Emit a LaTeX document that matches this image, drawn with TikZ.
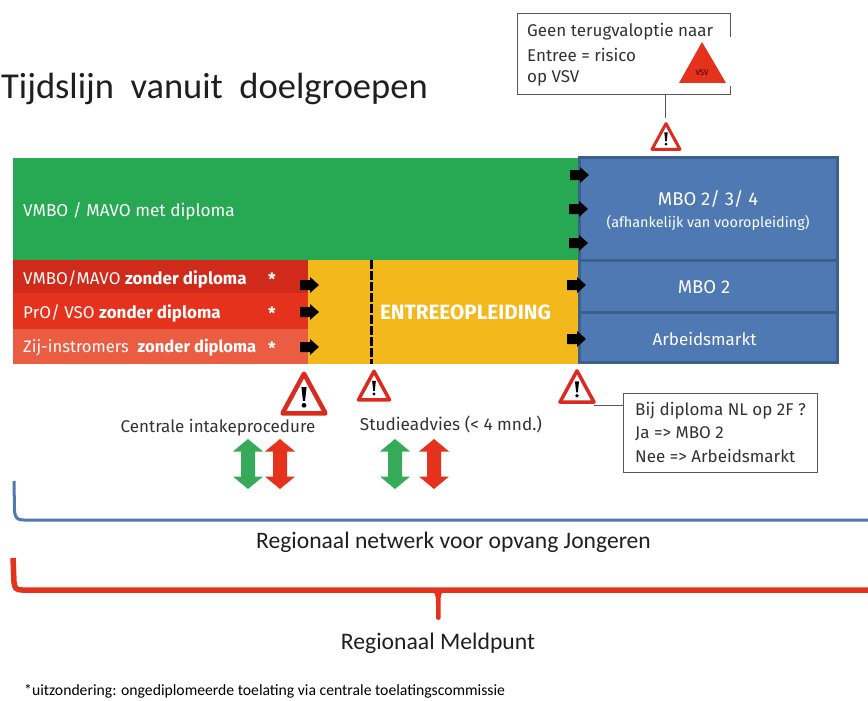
\documentclass[tikz,border=0pt]{standalone}
\usepackage{fontspec}
\setmainfont{Fira Sans}
\newfontfamily\calib{Carlito}
\usetikzlibrary{shapes.geometric}
\definecolor{cgreen}{HTML}{27A853}
\definecolor{cagreen}{HTML}{35AA58}
\definecolor{cblue}{HTML}{4E79B3}
\definecolor{cbluedk}{HTML}{3D5F8C}
\definecolor{credA}{HTML}{D02A1A}
\definecolor{credB}{HTML}{E5321C}
\definecolor{credC}{HTML}{EA5D42}
\definecolor{cyellow}{HTML}{F3B81C}
\definecolor{cwarn}{HTML}{D92B20}
\definecolor{ctext}{HTML}{333333}
\tikzset{
  bluebox/.style={draw=cbluedk,line width=3pt,fill=cblue},
  lbl/.style={text=white,inner sep=0pt},
  dark/.style={text=ctext,inner sep=0pt},
  callout/.style={draw=black!65,line width=1pt,fill=white,inner sep=0pt,outer sep=0pt},
  leader/.style={draw=black!65,line width=1pt},
  pics/blockarrow/.style={code={
    \fill[black] (-19,-5) -- (-9,-5) -- (-9,-8) -- (0,0) -- (-9,8) -- (-9,5) -- (-19,5) -- cycle;
  }},
  pics/updown/.style={code={
    \fill[#1] (0,-25) -- (15,-12.5) -- (7,-12.5) -- (7,12.5) -- (15,12.5) -- (0,25) -- (-15,12.5) -- (-7,12.5) -- (-7,-12.5) -- (-15,-12.5) -- cycle;
  }},
  pics/warn/.style 2 args={code={
    \draw[cwarn,fill=white,line width=#2,line join=round] (-#1,#1*0.92) -- (0,-#1*0.92) -- (#1,#1*0.92) -- cycle;
    \fill[black] (-#1*0.12,-#1*0.30) -- (#1*0.12,-#1*0.30) -- (#1*0.05,#1*0.34) -- (-#1*0.05,#1*0.34) -- cycle;
    \fill[black] (0,#1*0.55) circle (#1*0.11);
  }}
}
\begin{document}
\begin{tikzpicture}[x=1pt,y=-1pt]
\useasboundingbox (0,0) rectangle (868,701);
% title
\node[anchor=base west,inner sep=0pt,text=black!88] (title) at (1,99) {\calib\fontsize{36.5}{38}\selectfont Tijdslijn\ \ vanuit\ \ doelgroepen};
% bands
\fill[cgreen] (13,158) rectangle (580,260);
\fill[credA] (13,260) rectangle (308,293);
\fill[credB] (13,293) rectangle (308,329);
\fill[credC] (13,329) rectangle (308,364);
\fill[cyellow] (308,260) rectangle (580,364);
\draw[black,line width=3pt,dash pattern=on 9pt off 2pt] (371,260) -- (371,364);
\draw[bluebox] (579.5,157.5) rectangle (837,260.5);
\draw[bluebox] (579.5,260.5) rectangle (837,312.5);
\draw[bluebox] (579.5,312.5) rectangle (837,362.5);
% band labels
\node[lbl,anchor=west] (t1) at (23,211) {\fontsize{17.2}{20}\selectfont VMBO / MAVO met diploma};
\node[lbl,anchor=west] (t2) at (23,279) {\fontsize{17}{20}\selectfont VMBO/MAVO \textbf{zonder diploma}};
\node[lbl,anchor=west] (t3) at (23,313) {\fontsize{17}{20}\selectfont PrO/ VSO \textbf{zonder diploma}};
\node[lbl,anchor=west] (t4) at (23,348) {\fontsize{16.6}{20}\selectfont Zij-instromers\ \ \textbf{zonder diploma}};
\node[lbl] (s1) at (272,279) {\fontsize{17}{18}\selectfont\bfseries *};
\node[lbl] (s2) at (272,313) {\fontsize{17}{18}\selectfont\bfseries *};
\node[lbl] (s3) at (272,348) {\fontsize{17}{18}\selectfont\bfseries *};
\node[lbl] (entree) at (465.5,312) {\fontsize{20.7}{22}\selectfont\bfseries ENTREEOPLEIDING};
\node[lbl] (m1) at (708,199) {\fontsize{18.5}{20}\selectfont MBO 2/ 3/ 4};
\node[lbl] (m1b) at (708,223) {\fontsize{14.4}{16}\selectfont (afhankelijk van vooropleiding)};
\node[lbl] (m2) at (704,287) {\fontsize{18.5}{20}\selectfont MBO 2};
\node[lbl] (m3) at (704.5,339) {\fontsize{17}{18}\selectfont Arbeidsmarkt};
% block arrows
\foreach \x/\y in {589/175,588/209,588/243,319/285,319/312,319/347,586/285,586/339}
  \pic at (\x,\y) {blockarrow};
% callout top
\node[callout,minimum width=213pt,minimum height=81pt] (c1) at (623.5,54.5) {};
\fill[white] (725,37) rectangle (733,86);
\node[dark,anchor=west] (c1a) at (527,32) {\fontsize{17}{20}\selectfont Geen terugvaloptie naar};
\node[dark,anchor=west] (c1b) at (527,55) {\fontsize{17}{20}\selectfont Entree = risico};
\node[dark,anchor=west] (c1c) at (527,78) {\fontsize{17}{20}\selectfont op VSV};
\coordinate (vA) at (702,42);
\coordinate (vB) at (726,83);
\coordinate (vC) at (679,83);
\fill[credB] (vA) -- (vB) -- (vC) -- cycle;
\node[inner sep=0pt,text=black!80!red] (vsv) at (702,73) {\fontsize{8}{9}\selectfont VSV};
% warnings
\pic at (666,136.5) {warn={14}{3pt}};
\pic at (304,393.5) {warn={21.5}{4.5pt}};
\pic at (374,385.5) {warn={15.5}{3.5pt}};
\pic at (577,386.5) {warn={17}{3.5pt}};
\coordinate (w1) at (665,118);
\coordinate (c1s) at (665,95);
\draw[leader] (c1s) -- (w1);
% callout bottom
\node[callout,minimum width=194pt,minimum height=79pt] (c2) at (720,432.5) {};
\coordinate (w4) at (594,405);
\draw[leader] (w4) -- (c2.west |- w4);
\node[dark,anchor=west] (c2a) at (635,411) {\fontsize{17}{20}\selectfont Bij diploma NL op 2F ?};
\node[dark,anchor=west] (c2b) at (635,434) {\fontsize{17}{20}\selectfont Ja => MBO 2};
\node[dark,anchor=west] (c2c) at (635,456) {\fontsize{17}{20}\selectfont Nee => Arbeidsmarkt};
% step labels
\node[dark] (l1) at (218,428) {\fontsize{17}{20}\selectfont Centrale intakeprocedure};
\node[dark] (l2) at (451,424) {\fontsize{17.2}{20}\selectfont Studieadvies (< 4 mnd.)};
% up-down arrows
\pic at (248,464) {updown=cagreen};
\pic at (280,464) {updown=credB};
\pic at (395,464) {updown=cagreen};
\pic at (434,464) {updown=credB};
% brackets
\coordinate (b1) at (14,481);
\coordinate (b2) at (868,520);
\draw[cblue,line width=3pt,line join=round] (b1) -- (14.5,510) .. controls (15,518) and (17,520) .. (24,520) -- (b2);
\coordinate (b3) at (13,558);
\coordinate (b4) at (868,590);
\draw[credB,line width=5.5pt,line join=round] (b3) -- (14,582) .. controls (14.5,588) and (16,590) .. (22,590) -- (b4);
\fill[credB] (430,590) .. controls (435,591) and (436,596) .. (436,602) -- (436,618) .. controls (436,620.5) and (440.5,620.5) .. (440.5,618) -- (440.5,602) .. controls (440.5,596) and (441,591) .. (446,590) -- cycle;
% bottom texts
\node[inner sep=0pt,text=black!88] (n1) at (453.5,542) {\calib\fontsize{23.6}{26}\selectfont Regionaal netwerk voor opvang Jongeren};
\node[inner sep=0pt,text=black!88] (n2) at (438,643) {\calib\fontsize{23.7}{26}\selectfont Regionaal Meldpunt};
\node[inner sep=0pt,anchor=west,text=black] (n3) at (24,691.5) {\calib\fontsize{15.7}{18}\selectfont *uitzondering: ongediplomeerde toelating via centrale toelatingscommissie};
\end{tikzpicture}
\end{document}
